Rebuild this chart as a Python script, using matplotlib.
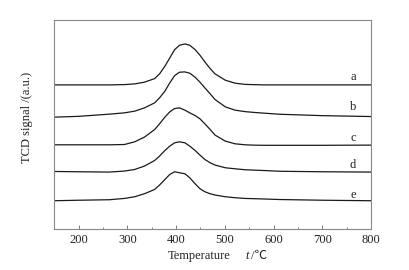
import matplotlib
matplotlib.use('Agg')
import matplotlib.pyplot as plt
from matplotlib.ticker import MultipleLocator

plt.rcParams['font.family'] = ['Liberation Serif', 'Noto Sans CJK SC']

# temperatures (deg C) and TCD signal (a.u., offset per curve)
T = [150, 200, 263, 294, 315, 335, 356, 366, 377, 387, 397, 407, 418, 428, 439, 449,
     459, 470, 480, 501, 521, 542, 563, 583, 613, 700, 800]

S_a = [144, 144, 144, 144.3, 145, 146.7, 150.3, 155, 162.7, 171, 179.3, 183.7, 185, 183.7, 179.3, 173.7,
       167, 160.3, 155, 148.7, 145.7, 144.5, 144.2, 144, 144, 144, 144]
S_b = [111.7, 112.5, 114.7, 116, 117.7, 121, 126, 131, 137.7, 146, 153.3, 156.7, 157, 155.7, 151.7, 146.7,
       141, 135, 129.3, 122, 118.7, 117.2, 116.3, 115.6, 114.6, 113.2, 112.3]
S_c = [84, 84, 84, 84.3, 87, 91.7, 99.3, 105, 111.7, 117, 120.3, 121, 118.7, 116, 113.3, 110,
       105, 99.3, 93.7, 87.7, 85, 84, 83.6, 83.5, 83.5, 83.5, 83.7]
S_d = [57.3, 57, 56.7, 57.7, 59.3, 62.7, 68.3, 72.7, 78.3, 82.7, 86, 87, 86, 82.7, 78.3, 73.7,
       69.3, 66, 63.7, 61, 60, 59, 58.6, 58.2, 57.5, 57, 56.7]
S_e = [28, 28.5, 29, 30.3, 32, 35, 39.3, 43.7, 49.3, 54.3, 57, 56, 55, 51, 45, 40,
       37, 35, 33.7, 32, 31, 30.3, 30, 29.7, 29.2, 28.5, 28]

series = [S_a, S_b, S_c, S_d, S_e]
labels = ['a', 'b', 'c', 'd', 'e']
label_y = [151.7, 121.7, 90.7, 64, 34]

fig = plt.figure(figsize=(4.09, 2.70), dpi=100)
ax = fig.add_axes([0.1328, 0.153, 0.7742, 0.773])

for s in series:
    ax.plot(T, s, color='#1a1a1a', lw=0.9)

for lab, yy in zip(labels, label_y):
    ax.text(763, yy, lab, fontsize=9, ha='center', va='center', color='#222222')

ax.set_xlim(150, 800)
ax.set_ylim(0, 209)
ax.xaxis.set_minor_locator(MultipleLocator(50))
ax.set_xticks([200, 300, 400, 500, 600, 700, 800])
ax.set_yticks([])
ax.tick_params(axis='x', which='major', direction='in', length=3, width=0.6,
               color='#666666', labelsize=9, pad=3.5, labelcolor='#222222')
ax.tick_params(axis='x', which='minor', direction='in', length=1.5, width=0.6, color='#666666')
for sp in ax.spines.values():
    sp.set_color('#888888')
    sp.set_linewidth(0.8)

# axis titles
fig.text(168 / 409, 1 - 256 / 270, 'Temperature', fontsize=9, ha='left', va='center', color='#222222')
fig.text(245 / 409, 1 - 256 / 270, 't', fontsize=9, style='italic', ha='left', va='center', color='#222222')
fig.text(251 / 409, 1 - 256 / 270, '/\u2103', fontsize=9, ha='left', va='center', color='#222222')
fig.text(26.7 / 409, 1 - 117.5 / 270, 'TCD signal /(a.u.)', fontsize=9, rotation=90,
         ha='center', va='center', color='#222222')

fig.savefig('out.png', dpi=100)
